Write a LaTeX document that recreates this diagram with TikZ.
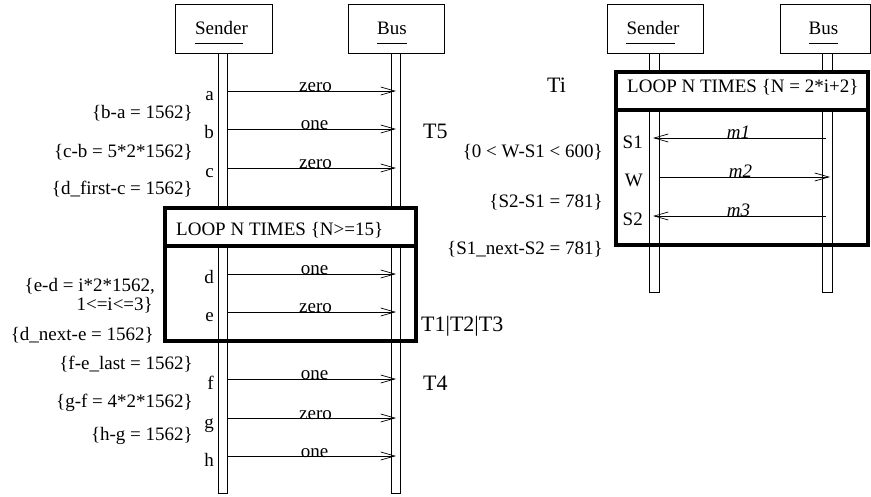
\documentclass[tikz,border=0pt]{standalone}
\usepackage{fontspec}
\setmainfont{Liberation Serif}
\usetikzlibrary{arrows.meta}
\begin{document}
\begin{tikzpicture}[x=1pt,y=-1pt,
  txt/.style={inner sep=0pt, font=\fontsize{19}{19}\selectfont},
  big/.style={inner sep=0pt, font=\fontsize{22}{24}\selectfont},
  actor/.style={draw, line width=0.8pt, minimum height=49pt, inner sep=0pt},
  life/.style={draw, line width=0.7pt, fill=white},
  msg/.style={line width=0.8pt, -{Straight Barb[length=14pt,width=8pt,line width=0.7pt]}},
  lbl/.style={txt, anchor=base, yshift=-1pt},
  loopbox/.style={draw, line width=3.5pt},
  uline/.style={line width=0.8pt},
]
\useasboundingbox (0,0) rectangle (871,497);
% ---------------- left diagram ----------------
\node[actor, minimum width=97pt] (bSL) at (223.5,28.5) {};
\node[actor, minimum width=96pt] (bBL) at (396,28.5) {};
\node[txt, anchor=base] (tSL) at (221.5,35) {Sender};
\node[txt, anchor=base] (tBL) at (392,35) {Bus};
\draw[uline] ([yshift=-8pt]tSL.base west) -- ([yshift=-8pt,xshift=-5pt]tSL.base east);
\draw[uline] ([yshift=-8pt]tBL.base west) -- ([yshift=-8pt]tBL.base east);
\draw[life] (218,53) rectangle (227,493);
\draw[life] (391,53) rectangle (400,493);
% loop box
\fill[white] (165,208) rectangle (416,246);
\draw[loopbox] (165,208) rectangle (416,341);
\draw[loopbox] (165,246) -- (416,246);
\node[txt, anchor=base west] (loopL) at (176,236) {LOOP N TIMES \{N>=15\}};
% message end points
\foreach \n/\y in {a/91,b/129,c/168,d/274,e/312,f/379,g/418,h/456}{
  \coordinate (\n0) at (227,\y);
  \coordinate (\n1) at (396,\y);
  \node[txt, anchor=base east] (l\n) at (214,\y+10) {\n};
}
\draw[msg] (a0) -- node[lbl, xshift=4pt] {zero} (a1);
\draw[msg] (b0) -- node[lbl, xshift=3pt] {one} (b1);
\draw[msg] (c0) -- node[lbl, xshift=4pt] {zero} (c1);
\draw[msg] (d0) -- node[lbl, xshift=3pt] {one} (d1);
\draw[msg] (e0) -- node[lbl, xshift=4pt] {zero} (e1);
\draw[msg] (f0) -- node[lbl, xshift=3pt] {one} (f1);
\draw[msg] (g0) -- node[lbl, xshift=4pt] {zero} (g1);
\draw[msg] (h0) -- node[lbl, xshift=3pt] {one} (h1);
% constraints
\node[txt, anchor=base east] (k1) at (193,119) {\{b-a = 1562\}};
\node[txt, anchor=base east] (k2) at (193,158) {\{c-b = 5*2*1562\}};
\node[txt, anchor=base east] (k3) at (193,195) {\{d\_first-c = 1562\}};
\node[txt, anchor=base east] (k4a) at (155,292) {\{e-d = i*2*1562,};
\node[txt, anchor=base east] (k4b) at (153,311) {1<=i<=3\}};
\node[txt, anchor=base east] (k5) at (154,341) {\{d\_next-e = 1562\}};
\node[txt, anchor=base east] (k6) at (193,370) {\{f-e\_last = 1562\}};
\node[txt, anchor=base east] (k7) at (193,407) {\{g-f = 4*2*1562\}};
\node[txt, anchor=base east] (k8) at (193,440) {\{h-g = 1562\}};
% T labels
\node[big, anchor=base west] (T5) at (423,139) {T5};
\node[big, anchor=base west] (T123) at (421,332) {T1|T2|T3};
\node[big, anchor=base west] (T4) at (423,391) {T4};
% ---------------- right diagram ----------------
\node[actor, minimum width=96pt] (bSR) at (655,28.5) {};
\node[actor, minimum width=90pt] (bBR) at (825,28.5) {};
\node[txt, anchor=base] (tSR) at (653,35) {Sender};
\node[txt, anchor=base] (tBR) at (823.5,35) {Bus};
\draw[uline] ([yshift=-8pt]tSR.base west) -- ([yshift=-8pt,xshift=-5pt]tSR.base east);
\draw[uline] ([yshift=-8pt]tBR.base west) -- ([yshift=-8pt]tBR.base east);
\draw[life] (649,53) rectangle (659,292);
\draw[life] (822,53) rectangle (832,292);
\fill[white] (616,72) rectangle (868,110);
\draw[loopbox] (616,72) rectangle (868,245);
\draw[loopbox] (616,110) -- (868,110);
\node[txt, anchor=base west] (loopR) at (627,93) {LOOP N TIMES \{N = 2*i+2\}};
\node[big, anchor=base west] (Ti) at (547,93) {Ti};
\coordinate (s1a) at (826,138); \coordinate (s1b) at (653,138);
\coordinate (wa) at (659,177);  \coordinate (wb) at (830,177);
\coordinate (s2a) at (826,216); \coordinate (s2b) at (653,216);
\draw[msg] (s1a) -- node[lbl, xshift=-1pt] {\textit{m1}} (s1b);
\draw[msg] (wa) -- node[lbl, xshift=-4pt] {\textit{m2}} (wb);
\draw[msg] (s2a) -- node[lbl, xshift=-1pt] {\textit{m3}} (s2b);
\node[txt, anchor=base east] (lS1) at (643,149) {S1};
\node[txt, anchor=base east] (lW) at (643,187) {W};
\node[txt, anchor=base east] (lS2) at (643,226) {S2};
\node[txt, anchor=base east] (r1) at (603,158) {\{0 < W-S1 < 600\}};
\node[txt, anchor=base east] (r2) at (603,208) {\{S2-S1 = 781\}};
\node[txt, anchor=base east] (r3) at (603,255) {\{S1\_next-S2 = 781\}};
\end{tikzpicture}
\end{document}
